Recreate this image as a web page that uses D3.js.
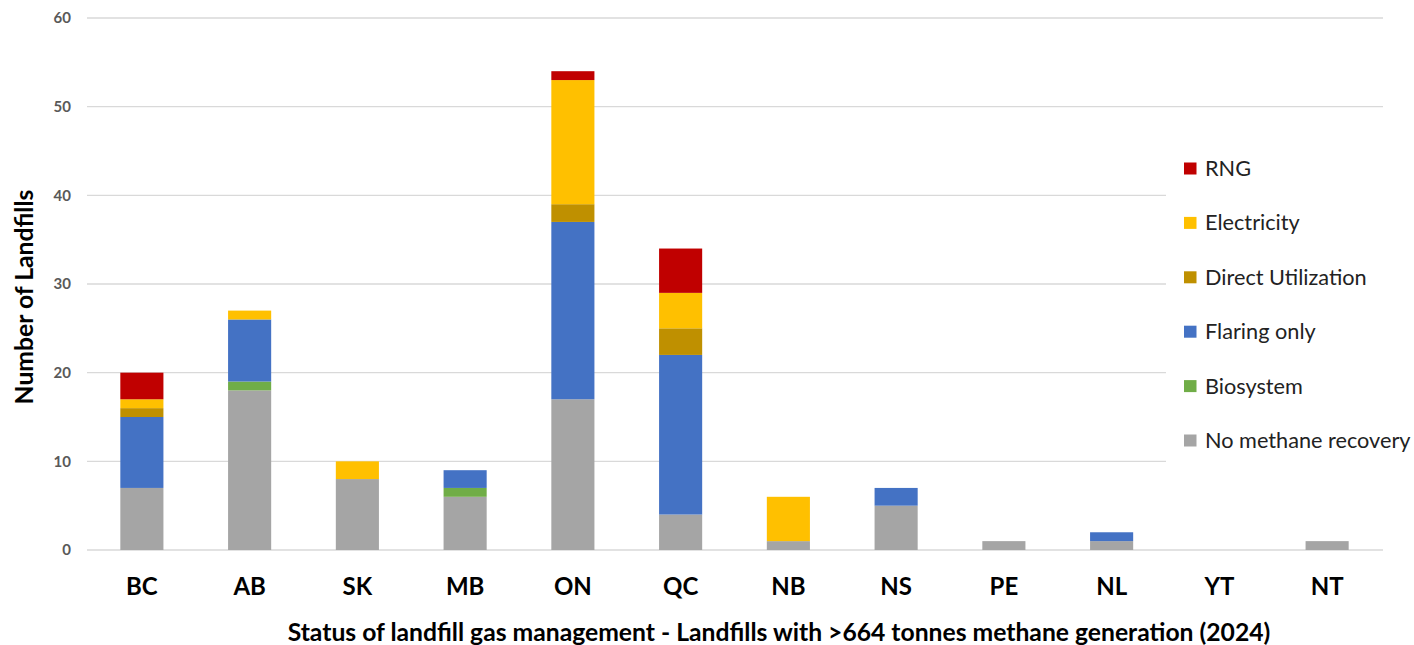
<!DOCTYPE html>
<html><head><meta charset="utf-8">
<script src="https://cdn.jsdelivr.net/npm/d3@7"></script>
<style>body{margin:0;background:#fff}svg{display:block}</style>
</head><body>
<svg id="chart" width="1414" height="645"></svg>
<script>
const categories = ["BC","AB","SK","MB","ON","QC","NB","NS","PE","NL","YT","NT"];
const seriesNames = ["No methane recovery","Biosystem","Flaring only","Direct Utilization","Electricity","RNG"];
const noMethane   = [7,18,8,6,17,4,1,5,1,1,0,1];
const biosystem   = [0,1,0,1,0,0,0,0,0,0,0,0];
const flaringOnly = [8,7,0,2,20,18,0,2,0,1,0,0];
const directUtil  = [1,0,0,0,2,3,0,0,0,0,0,0];
const electricity = [1,1,2,0,14,4,5,0,0,0,0,0];
const rng         = [3,0,0,0,1,5,0,0,0,0,0,0];
const yTicks = [0,10,20,30,40,50,60];
const colors = ["#A5A5A5","#70AD47","#4472C4","#BF9000","#FFC000","#C00000"];

const seriesValues = [noMethane,biosystem,flaringOnly,directUtil,electricity,rng];
const table = categories.map((c,i)=>{const o={cat:c};seriesNames.forEach((s,j)=>o[s]=seriesValues[j][i]);return o;});
const stacked = d3.stack().keys(seriesNames)(table);

const svg = d3.select("#chart");
const font = "Lato, 'Open Sans', sans-serif";
const m = {left:88,right:1381,top:18,bottom:550};
const x = d3.scaleBand().domain(categories).range([m.left,m.right]).paddingInner(0.6).paddingOuter(0.3);
const y = d3.scaleLinear().domain([0,60]).range([m.bottom,m.top]);

// gridlines
svg.append("g").selectAll("line").data(yTicks).join("line")
  .attr("x1",87).attr("x2",1383).attr("y1",d=>y(d)).attr("y2",d=>y(d))
  .attr("stroke","#d9d9d9").attr("stroke-width",1.3);

// y axis labels
const yAxis = svg.append("g").attr("transform",`translate(${m.left},0)`)
  .call(d3.axisLeft(y).tickValues(yTicks).tickSize(0).tickPadding(17));
yAxis.select(".domain").remove();
yAxis.selectAll("text").attr("font-family",font).attr("font-size",15).attr("font-weight","bold").attr("fill","#595959");

// bars
svg.append("g").selectAll("g").data(stacked).join("g")
  .attr("fill",(d,i)=>colors[i])
  .selectAll("rect").data(d=>d).join("rect")
  .attr("x",d=>x(d.data.cat)).attr("width",x.bandwidth())
  .attr("y",d=>y(d[1])).attr("height",d=>y(d[0])-y(d[1]));

// x axis
const xAxis = svg.append("g").attr("transform",`translate(0,${m.bottom})`)
  .call(d3.axisBottom(x).tickSize(0));
xAxis.select(".domain").remove();
xAxis.selectAll("text").attr("y",45).attr("dy",null)
  .attr("font-family",font).attr("font-size",24).attr("font-weight","bold").attr("fill","#000");

// axis titles
svg.append("text").attr("transform","translate(33,297) rotate(-90)").attr("text-anchor","middle")
  .attr("font-family",font).attr("font-size",24.7).attr("font-weight","bold").attr("fill","#000")
  .text("Number of Landfills");
svg.append("text").attr("x",779).attr("y",641).attr("text-anchor","middle")
  .attr("font-family",font).attr("font-size",24.7).attr("font-weight","bold").attr("fill","#000")
  .text("Status of landfill gas management - Landfills with >664 tonnes methane generation (2024)");

// legend
const legend = svg.append("g");
legend.append("rect").attr("x",1166).attr("y",140).attr("width",248).attr("height",330).attr("fill","#fff");
const legendOrder = seriesNames.slice().reverse();
const lg = legend.selectAll("g").data(legendOrder).join("g")
  .attr("transform",(d,i)=>`translate(1184,${168.5+i*54.4})`);
lg.append("rect").attr("x",0).attr("y",-6).attr("width",12.5).attr("height",12)
  .attr("fill",d=>colors[seriesNames.indexOf(d)]);
lg.append("text").attr("x",21).attr("y",7.5).attr("font-family",font).attr("font-size",21.7).attr("fill","#222")
  .text(d=>d);
</script>
</body></html>
